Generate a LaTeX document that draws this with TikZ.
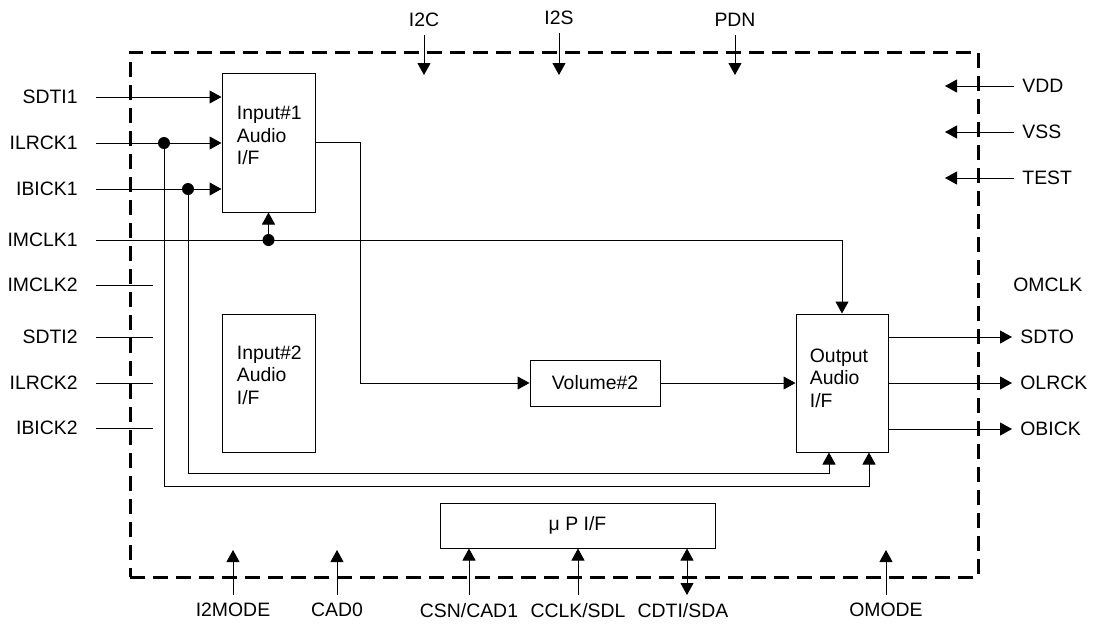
\documentclass[tikz,border=0pt]{standalone}
\usepackage{fontspec}
\setmainfont{Liberation Sans}
\usepackage{tikz}
\usetikzlibrary{arrows.meta}
\usetikzlibrary{calc}
\usetikzlibrary{positioning}

\tikzset{
  sig/.style={line width=0.5pt},
  arr/.style={sig, -{Triangle[length=6pt,width=6.5pt]}},
  dblarr/.style={sig, {Triangle[length=6pt,width=6.5pt]}-{Triangle[length=6pt,width=6.5pt]}},
  blk/.style={draw, line width=0.5pt, inner sep=0pt},
  blktxt/.style={align=left, inner sep=0pt},
  pinlbl/.style={inner sep=4pt},
  pinleft/.style={inner ysep=4pt, inner xsep=9pt, anchor=east},
  dot/.style={circle, fill, inner sep=0pt, minimum size=6pt},
  chipframe/.style={draw, line width=1.5pt, dash pattern=on 7.5pt off 4pt, inner sep=0pt}
}

\begin{document}
\begin{tikzpicture}[x=0.5pt, y=-0.5pt, font=\fontsize{9.7}{11.25}\selectfont]
\useasboundingbox (0,0) rectangle (1094,628);

% Chip frame
\node[chipframe, minimum width=424pt, minimum height=262.5pt] (chip) at (554,314.5) {};

% Blocks
\node[blk, minimum width=46.5pt, minimum height=69.5pt] (inA) at (268.5,142.5) {};
\node[blk, minimum width=46.5pt, minimum height=69pt] (inB) at (268.5,383) {};
\node[blk, minimum width=46pt, minimum height=69pt] (outif) at (842,383) {};
\node[blk, minimum width=65pt, minimum height=23pt] (vol) at (595,383) {Volume\#2};
\node[blk, minimum width=137.5pt, minimum height=22.5pt] (mpu) at (577.5,525.5) {μ P I/F};

% Block texts
\node[blktxt, anchor=west] (inAtxt) at ([xshift=7.5pt, yshift=3.5pt]inA.west) {Input\#1\\Audio\\I/F};
\node[blktxt, anchor=west] (inBtxt) at ([xshift=7.5pt, yshift=4pt]inB.west) {Input\#2\\Audio\\I/F};
\node[blktxt, anchor=west] (outtxt) at ([xshift=7pt, yshift=2.5pt]outif.west) {Output\\Audio\\I/F};

% Left pins, input 1
\node[pinleft] (sdtiA) at (96,97) {SDTI1};
\node[pinleft] (ilrckA) at (96,143) {ILRCK1};
\node[pinleft] (ibickA) at (96,189) {IBICK1};
\node[pinleft] (imclkA) at (96,240) {IMCLK1};

% Left pins, input 2
\node[pinleft] (imclkB) at (96,285) {IMCLK2};
\node[pinleft] (sdtiB) at (96,337) {SDTI2};
\node[pinleft] (ilrckB) at (96,383) {ILRCK2};
\node[pinleft] (ibickB) at (96,428) {IBICK2};

\draw[arr] (sdtiA.east) -- (sdtiA.east -| inA.west);
\draw[arr] (ilrckA.east) -- (ilrckA.east -| inA.west);
\draw[arr] (ibickA.east) -- (ibickA.east -| inA.west);

% IMCLK1 to both blocks
\node[dot] (mckdot) at (imclkA.east -| inA.south) {};
\draw[arr] (mckdot.center) -- (inA.south);
\draw[arr] (imclkA.east) -| (outif.north);

% LRCK and BICK taken over to the output block
\node[dot] (lrdot) at (164,143) {};
\node[dot] (bckdot) at (188,189) {};
\draw[arr] (lrdot.center) |- ($(outif.south)+(13.5pt,-17pt)$) -- ([xshift=13.5pt]outif.south);
\draw[arr] (bckdot.center) |- ($(outif.south)+(-6.5pt,-10.5pt)$) -- ([xshift=-6.5pt]outif.south);

% input 2 lines, not connected
\draw[sig] (imclkB.east) -- ++(28.5pt,0);
\draw[sig] (sdtiB.east) -- ++(28.5pt,0);
\draw[sig] (ilrckB.east) -- ++(28.5pt,0);
\draw[sig] (ibickB.east) -- ++(28.5pt,0);

% data path
\draw[arr] (inA.east) -- ++(22.5pt,0) |- (vol.west);
\draw[arr] (vol.east) -- (outif.west);

% Right pins, outputs
\node[pinlbl, anchor=west, inner sep=0pt] (omclk) at (1013,285) {OMCLK};
\node[pinlbl, anchor=west] (sdto) at (1012,337) {SDTO};
\node[pinlbl, anchor=west] (olrck) at (1012,383) {OLRCK};
\node[pinlbl, anchor=west] (obick) at (1012,429) {OBICK};
\draw[arr] (sdto.west -| outif.east) -- (sdto.west);
\draw[arr] (olrck.west -| outif.east) -- (olrck.west);
\draw[arr] (obick.west -| outif.east) -- (obick.west);

% Right pins, power
\node[pinlbl, anchor=west] (vdd) at (1014,86) {VDD};
\node[pinlbl, anchor=west] (vss) at (1014,132) {VSS};
\node[pinlbl, anchor=west] (test) at (1014,178) {TEST};
\draw[arr] (vdd.west) -- ++(-34.5pt,0);
\draw[arr] (vss.west) -- ++(-34.5pt,0);
\draw[arr] (test.west) -- ++(-34.5pt,0);

% Top pins
\node[pinlbl, anchor=south] (itwoc) at (424,35) {I2C};
\node[pinlbl, anchor=south] (itwos) at (559,33) {I2S};
\node[pinlbl, anchor=south] (pdn) at (735,35) {PDN};
\draw[arr] (itwoc.south) -- ++(0,-20pt);
\draw[arr] (itwos.south) -- ++(0,-21pt);
\draw[arr] (pdn.south) -- ++(0,-20pt);

% Bottom pins
\node[pinlbl, anchor=north] (itwomode) at (233,595) {I2MODE};
\node[pinlbl, anchor=north] (cadzero) at (337,595) {CAD0};
\node[pinlbl, anchor=north] (csn) at (469,595) {CSN/CAD1};
\node[pinlbl, anchor=north] (cclk) at (578,595) {CCLK/SDL};
\node[pinlbl, anchor=north] (cdti) at (683,595) {CDTI/SDA};
\node[pinlbl, anchor=north] (omode) at (886,595) {OMODE};
\draw[arr] (itwomode.north) -- ++(0,22.5pt);
\draw[arr] (cadzero.north) -- ++(0,22.5pt);
\draw[arr] (omode.north) -- ++(0,22.5pt);
\draw[arr] (csn.north) -- (csn.north |- mpu.south);
\draw[arr] (cclk.north) -- (cclk.north |- mpu.south);
\draw[dblarr] ([xshift=2pt]cdti.north) -- ([xshift=2pt]cdti.north |- mpu.south);

\end{tikzpicture}
\end{document}
